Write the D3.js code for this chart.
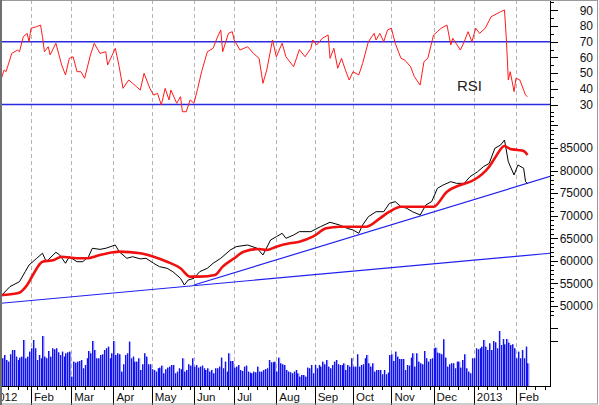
<!DOCTYPE html>
<html><head><meta charset="utf-8">
<script src="https://cdn.jsdelivr.net/npm/d3@7"></script>
<style>body{margin:0;background:#fff}svg{display:block}</style>
</head><body>
<script>
// ---- data (trading-day index 0 = 2 Jan 2012) ----
const monthLabels = ["2012","Feb","Mar","Apr","May","Jun","Jul","Aug","Sep","Oct","Nov","Dec","2013","Feb"];
const monthStartDay = [0,22,43,65,85,107,128,150,170,190,210,232,253,275];

const priceDay = [6,11,16,19,21,25,28,30,35,37,40,42,46,49,52,54,58,61,66,68,72,75,79,82,86,89,93,96,100,102,104,107,110,114,117,121,126,129,135,140,143,147,150,153,155,159,162,168,173,178,183,187,190,193,195,198,202,206,209,212,215,218,221,225,228,231,234,237,241,244,248,251,255,258,261,264,267,269,271,274,276,279,280,281];
const priceClose = [52060,54280,55380,57600,59080,60570,61680,59810,61900,61300,59460,60920,59810,59810,60920,62780,62550,62780,63510,62040,60570,60920,60440,60570,59460,58720,58350,57600,56130,54650,55750,56130,57600,58350,59460,60570,62410,63140,63510,62780,61300,64620,65360,66100,64990,65730,66470,66470,67570,68540,67940,67200,66840,66100,67940,69780,70890,70890,72750,73120,72010,71640,70890,70160,72380,73120,76070,76810,77540,77170,77170,78640,79750,80860,81590,84940,85670,86770,81960,79020,81240,80500,77540,77170];

const maDay = [6,15,20,23,28,34,38,46,51,58,65,68,79,86,93,100,105,110,118,122,128,133,141,145,150,157,162,169,176,183,190,197,204,209,215,221,232,239,246,253,261,264,269,272,276,279,281];
const maValue = [52400,52810,54650,56870,59810,60180,60920,60570,60570,61300,61900,62040,61680,60920,59810,58350,56500,56500,56870,58720,60570,62040,62630,62410,63140,63880,64250,65360,67200,67570,67570,67570,69420,70890,71990,71990,71990,75330,76810,77910,80860,82790,85450,84780,84560,84340,83450];

const rsiDay = [6,8,9,12,15,16,18,20,21,22,25,27,28,29,31,32,35,38,40,42,44,46,48,50,53,55,58,61,62,66,68,70,73,75,77,79,81,84,86,88,90,92,94,95,98,100,101,103,105,107,109,111,114,117,119,121,122,125,127,128,131,135,138,141,143,145,148,150,153,155,159,162,165,168,169,171,174,177,178,180,182,184,186,188,190,193,195,198,201,202,204,206,208,210,212,215,217,220,222,225,227,229,232,234,236,239,241,242,246,248,250,252,254,256,259,262,267,269,270,271,272,274,275,277,279,280,281];
const rsiValue = [44.5,52,50.9,62.6,64.7,63.6,73.2,75.3,70,78.5,79.6,80.6,73.2,63.6,66.8,61.6,69,55.2,48.8,59.4,60.4,50.9,50.9,46.7,61.5,69,62.6,63.6,55.2,65.8,54.1,40.3,45.6,43.5,41.4,39.2,49.9,40.3,36,37.1,29.7,40.3,32.9,39.2,30.8,35,25.4,25.4,32.9,30.8,40.3,50.9,63.6,65.8,72.2,77.5,63.6,75.3,76.4,71.1,64.7,66.8,62.6,59.4,43.5,52,71.1,60.4,69,60.4,54.1,65,60.4,65.8,71.1,67.9,72.2,74.3,59.4,65.8,53.1,59.4,52,45.6,50.9,48.8,56.2,70,75.3,71.1,75.3,70,77.5,78.6,69,59.4,58.3,54.1,47.7,42.4,57.3,59.4,74.3,76.4,78.6,80.6,67.9,72.2,64.7,70,76.4,70,78.6,75.3,78.6,85.9,89.1,90.2,71.1,45.6,50.9,38.2,46.7,45.6,39.2,36,35];

const volumeStartDay = 7;
const volume = [83,93,78,73,95,108,108,88,78,85,88,138,83,88,103,113,138,113,78,93,83,150,88,83,105,88,113,110,113,101,93,103,88,98,101,103,28,73,70,73,75,
78,53,63,83,105,98,135,108,83,83,93,95,108,113,118,83,98,135,93,98,95,
43,65,93,98,133,83,88,73,73,83,48,65,98,88,65,65,50,48,43,53,55,
61,38,50,55,58,63,63,38,43,53,50,83,43,48,65,61,83,58,63,55,58,
61,53,48,53,43,48,38,53,53,58,85,53,73,43,98,75,75,55,58,63,48,45,58,61,43,40,
38,43,41,58,43,43,48,51,53,78,71,71,73,43,85,68,65,63,48,43,41,38,43,48,38,
28,33,33,28,55,53,63,38,63,53,63,58,73,65,78,58,53,63,73,78,65,
63,63,68,48,63,58,83,58,58,95,58,63,65,83,93,68,58,68,43,48,48,48,35,48,35,40,
93,95,75,103,88,81,81,81,48,63,61,85,98,58,98,73,68,65,105,83,73,81,83,113,115,100,
98,95,140,85,58,65,68,68,53,73,73,55,78,95,53,43,38,83,83,113,110,
113,118,138,118,108,128,108,135,131,113,165,123,141,125,141,130,
123,125,113,83,103,83,108,83,118,68];

const trendDays = [[6,293],[107,293]];
const trendPrices = [[50600,61700],[54650,78750]];

const rsiLevels = [70,30];
const rsiLabelTicks = [30,40,50,60,70,80,90];
const priceLabelTicks = [50000,55000,60000,65000,70000,75000,80000,85000];

// ---- layout ----
const W = 599, H = 405;
const svg = d3.select("body").append("svg").attr("width", W).attr("height", H);
const axisX = 550, baseY = 386;
svg.append("rect").attr("x",0).attr("y",0).attr("width",W).attr("height",H).attr("fill","#fff");

const x = d3.scaleLinear().domain([0, 293]).range([-11.2, 550.5]);
const yRsi = d3.scaleLinear().domain([30, 90]).range([104.5, 10.3]);
const yPrice = d3.scaleLinear().domain([50000, 85000]).range([306, 148]);
const yVol = d3.scaleLinear().domain([0, 204]).range([baseY, 318]);

svg.append("defs").append("clipPath").attr("id","plot")
  .append("rect").attr("x",1).attr("y",0).attr("width",axisX-1).attr("height",baseY);

// month gridlines
const grid = svg.append("g");
monthStartDay.slice(1).forEach(d => {
  grid.append("line").attr("x1", Math.round(x(d))+0.5).attr("x2", Math.round(x(d))+0.5)
    .attr("y1", 0).attr("y2", baseY).attr("stroke","#b4b4b4").attr("stroke-dasharray","4,3");
});

const plot = svg.append("g").attr("clip-path","url(#plot)");

// volume
const bw = x(1) - x(0);
volume.forEach((v, i) => {
  const d = volumeStartDay + i;
  const xx = x(d);
  plot.append("rect").attr("x", xx).attr("y", yVol(v)).attr("width", bw).attr("height", baseY - yVol(v))
    .attr("fill", "#8585fb");
  plot.append("rect").attr("x", Math.round(xx)).attr("y", yVol(v)).attr("width", 1).attr("height", baseY - yVol(v))
    .attr("fill", "#1212ee");
});

// RSI levels
rsiLevels.forEach(l => {
  plot.append("line").attr("x1",0).attr("x2",axisX).attr("y1",yRsi(l)).attr("y2",yRsi(l))
    .attr("stroke","#2a2ae0").attr("stroke-width",1.6);
});

// RSI line
plot.append("path").datum(rsiDay.map((d,i)=>[d, rsiValue[i]]))
  .attr("d", d3.line().x(d=>x(d[0])).y(d=>yRsi(d[1])))
  .attr("fill","none").attr("stroke","#ff1a1a").attr("stroke-width",1);

svg.append("text").attr("x",457).attr("y",91).text("RSI")
  .attr("font-family","Liberation Sans, Arial, sans-serif").attr("font-size",15).attr("fill","#222");

// trend lines
trendDays.forEach((td, k) => {
  plot.append("line").attr("x1", x(td[0])).attr("x2", x(td[1]))
    .attr("y1", yPrice(trendPrices[k][0])).attr("y2", yPrice(trendPrices[k][1]))
    .attr("stroke","#2020f0").attr("stroke-width",1.2);
});

// price
plot.append("path").datum(priceDay.map((d,i)=>[d, priceClose[i]]))
  .attr("d", d3.line().x(d=>x(d[0])).y(d=>yPrice(d[1])))
  .attr("fill","none").attr("stroke","#000").attr("stroke-width",1);

// moving average
plot.append("path").datum(maDay.map((d,i)=>[d, maValue[i]]))
  .attr("d", d3.line().curve(d3.curveMonotoneX).x(d=>x(d[0])).y(d=>yPrice(d[1])))
  .attr("fill","none").attr("stroke","#f01010").attr("stroke-width",2.6);

// right axis
const ax = svg.append("g").attr("stroke","#000");
ax.append("line").attr("x1",axisX+0.5).attr("x2",axisX+0.5).attr("y1",0).attr("y2",baseY+1);
d3.range(25, 100, 5).forEach(v => {
  const y = Math.round(yRsi(v)) + 0.5;
  ax.append("line").attr("x1",axisX).attr("x2",axisX + (v%10===0?8:4)).attr("y1",y).attr("y2",y);
});
d3.range(48000, 93000, 1000).forEach(v => {
  const y = Math.round(yPrice(v)) + 0.5;
  ax.append("line").attr("x1",axisX).attr("x2",axisX + (v%5000===0?8:4)).attr("y1",y).attr("y2",y);
});
[135,175].forEach(v => {
  const y = Math.round(yVol(v)) + 0.5;
  ax.append("line").attr("x1",axisX).attr("x2",axisX + 8).attr("y1",y).attr("y2",y);
});
const lab = svg.append("g").attr("font-family","Liberation Sans, Arial, sans-serif").attr("font-size",12).attr("fill","#111").attr("text-anchor","end");
rsiLabelTicks.forEach(v => lab.append("text").attr("x",593).attr("y",yRsi(v)).attr("dy","0.36em").text(v));
priceLabelTicks.forEach(v => lab.append("text").attr("x",593).attr("y",yPrice(v)).attr("dy","0.36em").text(v));

// bottom axis
const bx = svg.append("g").attr("stroke","#000");
bx.append("line").attr("x1",0).attr("x2",axisX+1).attr("y1",baseY+0.5).attr("y2",baseY+0.5);
d3.range(0, 293, 5).forEach(d => {
  const xx = Math.round(x(d)) + 0.5;
  if (xx > 0 && xx < axisX) bx.append("line").attr("x1",xx).attr("x2",xx).attr("y1",baseY).attr("y2",baseY+4);
});
monthStartDay.forEach(d => {
  const xx = Math.round(x(d)) + 0.5;
  if (xx > 0) bx.append("line").attr("x1",xx).attr("x2",xx).attr("y1",baseY).attr("y2",H);
});
const ml = svg.append("g").attr("font-family","Liberation Sans, Arial, sans-serif").attr("font-size",11.5).attr("fill","#111");
monthLabels.forEach((m, i) => {
  ml.append("text").attr("x", x(monthStartDay[i]) + 3).attr("y", 401).text(m);
});

// frame
svg.append("rect").attr("x",0.5).attr("y",0.5).attr("width",W-2).attr("height",H-1.5)
  .attr("fill","none").attr("stroke","#9a9a9a");
svg.append("line").attr("x1",1).attr("x2",1).attr("y1",0).attr("y2",H).attr("stroke","#707070").attr("stroke-width",2);
</script>
</body></html>
